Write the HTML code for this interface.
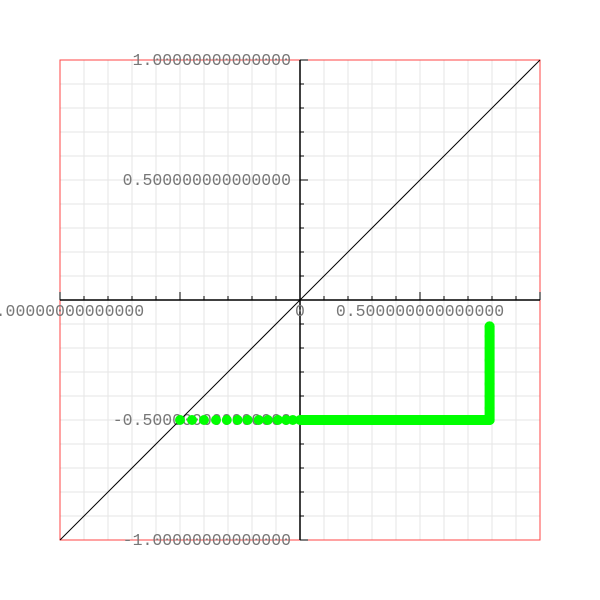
<!DOCTYPE html>
<html><head><meta charset="utf-8"><style>body{margin:0;background:#fff}svg{display:block}</style></head>
<body>
<svg id="chart" width="600" height="600" font-family="Liberation Mono, monospace">
<g id="grid"></g>
<rect x="60" y="60" width="480" height="480" fill="none" stroke="#f44" stroke-width="1"/>
<g id="axes"></g>
<line id="diag" stroke="#000" stroke-width="1"/>
<g id="pts"></g>
</svg>
<script>
const xTicks = [-1, -0.5, 0, 0.5];
const xTickLabels = ["-1.00000000000000", "", "0", "0.500000000000000"];
const yTicks = [1, 0.5, -0.5, -1];
const yTickLabels = ["1.00000000000000", "0.500000000000000", "-0.500000000000000", "-1.00000000000000"];
const hX = [-0.5,-0.45,-0.4,-0.35,-0.305,-0.26,-0.218,-0.172,-0.134,-0.092,-0.058,-0.03,0,0.03,0.06,0.1,0.15,0.2,0.25,0.3,0.35,0.4,0.45,0.5,0.55,0.6,0.65,0.7,0.75,0.79];
const hY = -0.5;
const vY = [-0.5,-0.45,-0.4,-0.35,-0.3,-0.25,-0.2,-0.15,-0.11];
const vX = 0.79;
const sx = v => 300 + v*240, sy = v => 300 - v*240;
const NS = "http://www.w3.org/2000/svg";
function mk(t, a, p){const e=document.createElementNS(NS,t);for(const k in a)e.setAttribute(k,a[k]);p.appendChild(e);return e;}
const grid = document.getElementById('grid');
for (let i=-10;i<=10;i++){
  const gx = mk('line',{x1:sx(i/10),x2:sx(i/10),y1:60,y2:540,stroke:'#e6e6e6'},grid);
  
  
  const gy = mk('line',{x1:60,x2:540,y1:sy(i/10),y2:sy(i/10),stroke:'#e6e6e6'},grid);
  
  
}
const axes = document.getElementById('axes');
const xa = mk('line',{x1:60,x2:540,y1:300,y2:300,stroke:'#000','stroke-width':1.5},axes);


const ya = mk('line',{x1:300,x2:300,y1:60,y2:540,stroke:'#000','stroke-width':1.5},axes);


for (let i=-10;i<=10;i++){
  const major = i%5===0;
  const t1 = mk('line',{x1:sx(i/10),x2:sx(i/10),y1:300-(major?8:4),y2:300,stroke:'#000'},axes);
  
  
  const t2 = mk('line',{x1:300,x2:300+(major?8:4),y1:sy(i/10),y2:sy(i/10),stroke:'#000'},axes);
  
  
}
xTicks.forEach((v,i)=>{
  if(!xTickLabels[i])return;
  const t = mk('text',{x:sx(v),y:316,'text-anchor':v===0?'start':'middle','font-size':16.5,fill:'#777'},axes);
  if(v===0)t.setAttribute('x',sx(v)-5);
  t.textContent = xTickLabels[i];
  
  
});
yTicks.forEach((v,i)=>{
  const t = mk('text',{x:291,y:sy(v)+5,'text-anchor':'end','font-size':16.5,fill:'#777'},axes);
  t.textContent = yTickLabels[i];
  
  
});
const d = document.getElementById('diag');
d.setAttribute('x1',sx(-1));d.setAttribute('y1',sy(-1));d.setAttribute('x2',sx(1));d.setAttribute('y2',sy(1));
const pts = document.getElementById('pts');
const seg1 = mk('line',{x1:sx(0),y1:sy(hY),x2:sx(vX),y2:sy(hY),stroke:'#00ff00','stroke-width':10},pts);


const seg2 = mk('line',{x1:sx(vX),y1:sy(hY),x2:sx(vX),y2:sy(vY[vY.length-1]),stroke:'#00ff00','stroke-width':10,'stroke-linecap':'round'},pts);


hX.forEach(v=>{
  const c = mk('circle',{cx:sx(v),cy:sy(hY),r:5,fill:'#00ff00'},pts);
  
  
});
vY.forEach(v=>{
  const c = mk('circle',{cx:sx(vX),cy:sy(v),r:5,fill:'#00ff00'},pts);
  
  
});
</script>
</body></html>
